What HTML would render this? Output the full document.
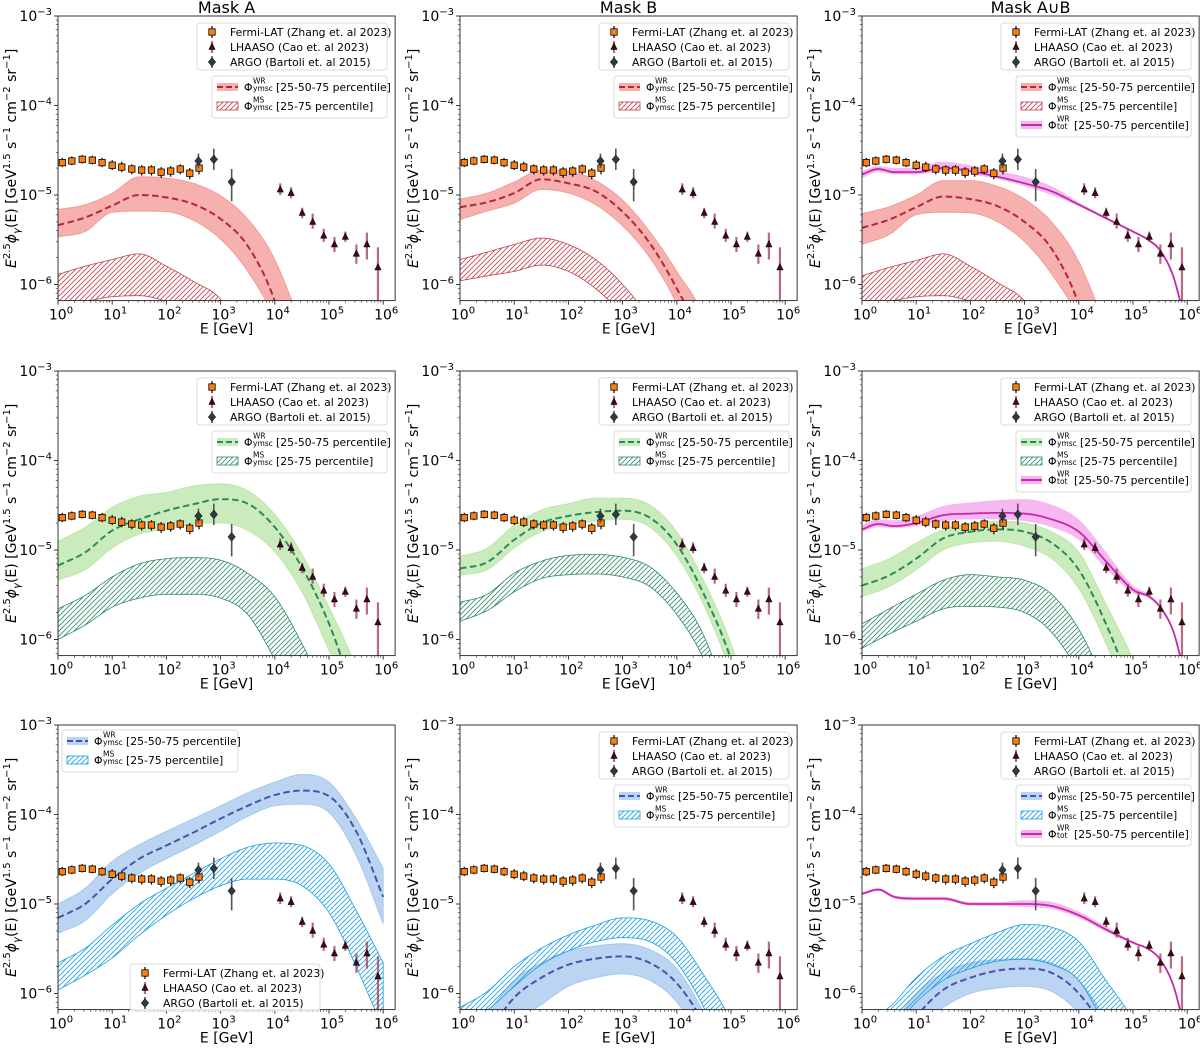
<!DOCTYPE html>
<html><head><meta charset="utf-8">
<style>
body{margin:0;background:#fff;overflow:hidden}
svg{display:block}
text{font-family:"DejaVu Sans","Liberation Sans",sans-serif;fill:#000}
</style></head>
<body>
<svg id="fig" width="1200" height="1052" viewBox="0 0 1200 1052" xmlns="http://www.w3.org/2000/svg">
<defs>
<pattern id="hatch-red" patternUnits="userSpaceOnUse" width="5" height="5"><path d="M-1,1 l2,-2 M0,5 l5,-5 M4,6 l2,-2" stroke="#c2404c" stroke-width="0.8"/></pattern>
<pattern id="hatch-green" patternUnits="userSpaceOnUse" width="5" height="5"><path d="M-1,1 l2,-2 M0,5 l5,-5 M4,6 l2,-2" stroke="#2f8c62" stroke-width="0.8"/></pattern>
<pattern id="hatch-blue" patternUnits="userSpaceOnUse" width="5" height="5"><path d="M-1,1 l2,-2 M0,5 l5,-5 M4,6 l2,-2" stroke="#1aa0e0" stroke-width="0.8"/></pattern>
</defs>
</svg>
<script>
// ---------- data ----------
const GRID=[0,0.5,1,1.5,2,2.5,3,3.5,4,4.5,5,5.5,6];
const TOT_GRID=[0,0.3,0.6,1,1.5,2,2.5,3,3.5,4,4.5,5,5.3,5.5,5.75,6];

const fermiE=[1.2,1.8,2.8,4.3,6.5,10,15,23,35,53,80,120,180,270,400];
const fermiF=[2.3e-5,2.4e-5,2.5e-5,2.45e-5,2.3e-5,2.15e-5,2.05e-5,1.95e-5,1.9e-5,1.9e-5,1.8e-5,1.85e-5,1.95e-5,1.75e-5,2.0e-5];
const fermiLo=[2.05e-5,2.15e-5,2.25e-5,2.2e-5,2.05e-5,1.9e-5,1.8e-5,1.7e-5,1.65e-5,1.65e-5,1.55e-5,1.6e-5,1.7e-5,1.5e-5,1.7e-5];
const fermiHi=[2.6e-5,2.7e-5,2.8e-5,2.75e-5,2.6e-5,2.45e-5,2.35e-5,2.2e-5,2.15e-5,2.15e-5,2.05e-5,2.1e-5,2.2e-5,2.0e-5,2.35e-5];
const lhaasoE=[1.26e4,2e4,3.2e4,5e4,8e4,1.26e5,2e5,3.2e5,5e5,8e5];
const lhaasoF=[1.15e-5,1.05e-5,6.3e-6,5e-6,3.5e-6,2.8e-6,3.4e-6,2.2e-6,2.8e-6,1.55e-6];
const lhaasoLo=[1.0e-5,9.2e-6,5.5e-6,4.2e-6,3.0e-6,2.3e-6,3.0e-6,1.7e-6,1.9e-6,6.5e-7];
const lhaasoHi=[1.35e-5,1.22e-5,7.2e-6,6.2e-6,4.2e-6,3.4e-6,3.9e-6,2.8e-6,3.8e-6,2.6e-6];
const argoE=[390,750,1600];
const argoF=[2.4e-5,2.5e-5,1.4e-5];
const argoLo=[2.0e-5,1.9e-5,8.5e-6];
const argoHi=[2.9e-5,3.3e-5,1.95e-5];

const a1WrLo=[3.4e-6,3.9e-6,6.4e-6,6.6e-6,6.5e-6,5.2e-6,3.2e-6,1.4e-6,4e-7,5e-8,1e-8,1e-8,1e-8];
const a1WrMed=[4.6e-6,5.6e-6,7.6e-6,1.0e-5,9.4e-6,7.9e-6,5.4e-6,2.7e-6,6.5e-7,5e-8,1e-8,1e-8,1e-8];
const a1WrHi=[6.9e-6,7.8e-6,1.05e-5,1.6e-5,1.55e-5,1.35e-5,9.8e-6,5.4e-6,1.9e-6,3e-7,2e-8,1e-8,1e-8];
const a1MsLo=[6e-7,6.5e-7,7.3e-7,7.5e-7,6.5e-7,5e-7,3e-7,1e-7,1e-8,1e-8,1e-8,1e-8,1e-8];
const a1MsHi=[1.3e-6,1.6e-6,1.9e-6,2.2e-6,1.6e-6,1.08e-6,6.8e-7,2e-7,3e-8,1e-8,1e-8,1e-8,1e-8];
const b1WrLo=[5.3e-6,6.6e-6,8.1e-6,1.15e-5,1.05e-5,7.8e-6,4.5e-6,2e-6,6e-7,1e-7,1e-8,1e-8,1e-8];
const b1WrMed=[7.3e-6,8.3e-6,1.05e-5,1.5e-5,1.35e-5,1.1e-5,6.5e-6,2.9e-6,9e-7,2e-7,1e-8,1e-8,1e-8];
const b1WrHi=[9e-6,1.05e-5,1.4e-5,1.9e-5,1.85e-5,1.45e-5,8.8e-6,3.9e-6,1.4e-6,4e-7,2e-8,1e-8,1e-8];
const b1MsLo=[1.1e-6,1.25e-6,1.4e-6,1.65e-6,1.4e-6,9e-7,4.5e-7,1.5e-7,3e-8,1e-8,1e-8,1e-8,1e-8];
const b1MsHi=[1.9e-6,2.3e-6,2.8e-6,3.3e-6,2.8e-6,1.9e-6,1.0e-6,4e-7,1e-7,1e-8,1e-8,1e-8,1e-8];
const c1WrLo=[2.8e-6,3.6e-6,6.0e-6,6.4e-6,6.3e-6,5.0e-6,3.0e-6,1.3e-6,4e-7,5e-8,1e-8,1e-8,1e-8];
const c1WrMed=[4.3e-6,5.3e-6,7.3e-6,9.6e-6,9.0e-6,7.5e-6,5.0e-6,2.5e-6,6e-7,5e-8,1e-8,1e-8,1e-8];
const c1WrHi=[6.2e-6,7.4e-6,1.0e-5,1.45e-5,1.45e-5,1.25e-5,9.0e-6,5.0e-6,1.8e-6,3e-7,2e-8,1e-8,1e-8];
const c1MsLo=[6e-7,6.5e-7,7.3e-7,7.5e-7,6.5e-7,5e-7,3e-7,1e-7,1e-8,1e-8,1e-8,1e-8,1e-8];
const c1MsHi=[1.25e-6,1.55e-6,1.85e-6,2.2e-6,1.6e-6,1.05e-6,6.5e-7,2e-7,3e-8,1e-8,1e-8,1e-8,1e-8];
const c1TotLo=[1.55e-5,1.8e-5,1.7e-5,1.7e-5,1.85e-5,1.7e-5,1.5e-5,1.25e-5,1.0e-5,7.5e-6,5.4e-6,3.8e-6,3.05e-6,2.35e-6,1.15e-6,3e-7];
const c1TotMed=[1.7e-5,1.95e-5,1.8e-5,1.8e-5,2.0e-5,1.85e-5,1.6e-5,1.35e-5,1.1e-5,7.8e-6,5.5e-6,3.9e-6,3.1e-6,2.4e-6,1.2e-6,3e-7];
const c1TotHi=[1.85e-5,2.1e-5,2.0e-5,2.05e-5,2.35e-5,2.15e-5,1.85e-5,1.6e-5,1.25e-5,8.3e-6,5.7e-6,4.0e-6,3.2e-6,2.5e-6,1.25e-6,3e-7];
const a2WrLo=[4.6e-6,6e-6,1.05e-5,1.5e-5,1.7e-5,1.95e-5,2.0e-5,1.65e-5,9.5e-6,3.4e-6,7.5e-7,1.5e-7,1e-8];
const a2WrMed=[6.7e-6,9.4e-6,1.65e-5,2.2e-5,2.75e-5,3.25e-5,3.7e-5,3.3e-5,1.8e-5,6.4e-6,1.5e-6,2e-7,2e-8];
const a2WrHi=[1.25e-5,1.8e-5,3.0e-5,4.0e-5,4.4e-5,5.2e-5,5.5e-5,4.6e-5,2.5e-5,9e-6,2.3e-6,5e-7,8e-8];
const a2MsLo=[1e-6,1.45e-6,2.3e-6,2.9e-6,3.2e-6,3.2e-6,2.9e-6,1.9e-6,6e-7,1.5e-7,2e-8,1e-8,1e-8];
const a2MsHi=[2.2e-6,3.1e-6,5e-6,7e-6,8e-6,8.2e-6,7.7e-6,5.5e-6,3e-6,9e-7,2e-7,2e-8,1e-8];
const b2WrLo=[5.2e-6,6e-6,1.05e-5,1.6e-5,1.9e-5,2.1e-5,2.2e-5,1.8e-5,8.5e-6,2.4e-6,4e-7,3e-8,1e-8];
const b2WrMed=[6.2e-6,7.3e-6,1.3e-5,2.0e-5,2.4e-5,2.65e-5,2.75e-5,2.3e-5,1.15e-5,3.2e-6,6e-7,5e-8,1e-8];
const b2WrHi=[8.5e-6,1.05e-5,1.9e-5,2.8e-5,3.3e-5,3.8e-5,3.8e-5,3.2e-5,1.6e-5,4.5e-6,9e-7,1e-7,1e-8];
const b2MsLo=[1.6e-6,2.1e-6,3.4e-6,4.8e-6,5.3e-6,5.4e-6,5.0e-6,3.9e-6,1.9e-6,6e-7,1e-7,1e-8,1e-8];
const b2MsHi=[2.6e-6,3.2e-6,5.5e-6,7.5e-6,8.7e-6,8.9e-6,8.3e-6,6.5e-6,3.3e-6,1.1e-6,1.5e-7,1e-8,1e-8];
const c2WrLo=[3e-6,3.9e-6,6e-6,1.0e-5,1.2e-5,1.25e-5,1.1e-5,8e-6,3.7e-6,9e-7,1.5e-7,1e-8,1e-8];
const c2WrMed=[4e-6,5.2e-6,8e-6,1.35e-5,1.6e-5,1.7e-5,1.6e-5,1.2e-5,6e-6,1.5e-6,2.5e-7,3e-8,1e-8];
const c2WrHi=[6.2e-6,8e-6,1.2e-5,1.7e-5,2.0e-5,2.1e-5,2.0e-5,1.6e-5,9.5e-6,2.5e-6,6e-7,1e-7,1e-8];
const c2MsLo=[8e-7,1.15e-6,1.6e-6,2.2e-6,2.35e-6,2.3e-6,2.0e-6,1.2e-6,4e-7,5e-8,1e-8,1e-8,1e-8];
const c2MsHi=[1.5e-6,2.2e-6,3.2e-6,4.6e-6,5.3e-6,5.0e-6,4.6e-6,3.2e-6,1.3e-6,3e-7,5e-8,1e-8,1e-8];
const c2TotLo=[1.6e-5,1.8e-5,1.75e-5,1.85e-5,2.1e-5,2.2e-5,2.2e-5,2.1e-5,1.8e-5,1.3e-5,6.2e-6,3.3e-6,2.9e-6,2.2e-6,1.15e-6,3e-7];
const c2TotMed=[1.7e-5,1.95e-5,1.85e-5,2.0e-5,2.45e-5,2.55e-5,2.6e-5,2.55e-5,2.2e-5,1.6e-5,7.5e-6,3.6e-6,3.0e-6,2.3e-6,1.2e-6,3e-7];
const c2TotHi=[1.9e-5,2.2e-5,2.15e-5,2.4e-5,3.1e-5,3.4e-5,3.6e-5,3.7e-5,3.2e-5,2.2e-5,9.5e-6,4.0e-6,3.2e-6,2.4e-6,1.25e-6,3e-7];
const a3WrLo=[4.7e-6,6.5e-6,1.3e-5,2.2e-5,3.2e-5,4.5e-5,6.5e-5,9.5e-5,1.25e-4,1.3e-4,1.05e-4,3.5e-5,6e-6];
const a3WrMed=[7e-6,1e-5,1.9e-5,3.2e-5,4.5e-5,6.3e-5,9e-5,1.25e-4,1.65e-4,1.85e-4,1.6e-4,6.5e-5,1.2e-5];
const a3WrHi=[1.0e-5,1.5e-5,3e-5,4.6e-5,6.5e-5,9e-5,1.25e-4,1.75e-4,2.3e-4,2.8e-4,2.3e-4,9e-5,2.5e-5];
const a3MsLo=[1.1e-6,1.6e-6,2.5e-6,4.5e-6,7.5e-6,1.15e-5,1.6e-5,1.9e-5,1.9e-5,1.6e-5,8e-6,2e-6,4e-7];
const a3MsHi=[2.2e-6,3.2e-6,5.8e-6,1.0e-5,1.5e-5,2.2e-5,3.2e-5,4.3e-5,4.8e-5,4.5e-5,2.8e-5,8.5e-6,2.2e-6];
const b3WrLo=[5e-8,1.5e-7,4.5e-7,7.5e-7,1.2e-6,1.5e-6,1.65e-6,1.4e-6,8e-7,2.5e-7,4e-8,1e-8,1e-8];
const b3WrMed=[1.5e-7,3.5e-7,9e-7,1.5e-6,2.1e-6,2.45e-6,2.6e-6,2.2e-6,1.3e-6,4.5e-7,8e-8,1e-8,1e-8];
const b3WrHi=[2.5e-7,6e-7,1.4e-6,2.2e-6,3.0e-6,3.4e-6,3.6e-6,3.1e-6,1.9e-6,6e-7,1.2e-7,1e-8,1e-8];
const b3MsLo=[4.5e-7,6.5e-7,1.2e-6,2.1e-6,3e-6,3.8e-6,4.2e-6,3.8e-6,2.2e-6,7e-7,1.5e-7,2e-8,1e-8];
const b3MsHi=[7e-7,1.05e-6,2e-6,3.2e-6,4.5e-6,5.8e-6,7e-6,6.5e-6,4.3e-6,1.6e-6,5e-7,1e-7,1e-8];
const c3WrLo=[4e-8,1e-7,4e-7,7e-7,1.0e-6,1.15e-6,1.2e-6,1.05e-6,6e-7,2e-7,3e-8,1e-8,1e-8];
const c3WrMed=[8e-8,2e-7,5.5e-7,1.1e-6,1.5e-6,1.8e-6,1.9e-6,1.7e-6,1.0e-6,3.5e-7,5e-8,1e-8,1e-8];
const c3WrHi=[1.5e-7,4e-7,1.0e-6,1.7e-6,2.2e-6,2.4e-6,2.45e-6,2.2e-6,1.4e-6,5e-7,1e-7,1e-8,1e-8];
const c3MsLo=[2e-7,3.5e-7,8e-7,1.4e-6,1.9e-6,2.3e-6,2.4e-6,2.1e-6,1.4e-6,4e-7,8e-8,1e-8,1e-8];
const c3MsHi=[5e-7,7e-7,1.5e-6,2.6e-6,3.6e-6,4.8e-6,5.9e-6,5.5e-6,3.8e-6,1.4e-6,5e-7,1e-7,1e-8];
const c3TotLo=[1.25e-5,1.4e-5,1.15e-5,1.1e-5,1.1e-5,9.6e-6,9.5e-6,9.3e-6,8.8e-6,7e-6,4.9e-6,3.6e-6,3.05e-6,2.35e-6,1.18e-6,3e-7];
const c3TotMed=[1.3e-5,1.45e-5,1.2e-5,1.15e-5,1.15e-5,1.0e-5,1.0e-5,1.0e-5,9.5e-6,7.5e-6,5.2e-6,3.7e-6,3.1e-6,2.4e-6,1.2e-6,3e-7];
const c3TotHi=[1.35e-5,1.5e-5,1.25e-5,1.2e-5,1.2e-5,1.05e-5,1.05e-5,1.1e-5,1.05e-5,8.2e-6,5.6e-6,3.8e-6,3.15e-6,2.45e-6,1.22e-6,3e-7];

const xTickExps=[0,1,2,3,4,5,6];
const yTickExps=[-3,-4,-5,-6];
const titles=['Mask A','Mask B','Mask A\u222aB'];

// ---------- drawing ----------
const NS='http://www.w3.org/2000/svg';
const svg=document.getElementById('fig');
function el(tag,attrs,parent){const e=document.createElementNS(NS,tag);for(const k in attrs)e.setAttribute(k,attrs[k]);(parent||svg).appendChild(e);return e;}

const COL_L=[58,460,862], ROW_T=[16,371,725];
const DX=54.2, DY=89.5, XMAX=6.22, YMIN=-6.18;
const W=DX*XMAX, H=DY*(-3-YMIN);

const COLORS={
 red:{fill:'#ee6f6b',op:0.55,line:'#b5263a',hatch:'url(#hatch-red)',edge:'#c2404c'},
 green:{fill:'#9fdc85',op:0.55,line:'#2a8a5a',hatch:'url(#hatch-green)',edge:'#2f8c62'},
 blue:{fill:'#78aae6',op:0.5,line:'#4455aa',hatch:'url(#hatch-blue)',edge:'#1aa0e0'}
};

function interp(xs,ys){
 const n=xs.length,d=[],m=[];
 for(let i=0;i<n-1;i++)d[i]=(ys[i+1]-ys[i])/(xs[i+1]-xs[i]);
 m[0]=d[0];m[n-1]=d[n-2];
 for(let i=1;i<n-1;i++)m[i]=d[i-1]*d[i]<=0?0:(d[i-1]+d[i])/2;
 for(let i=0;i<n-1;i++){
  if(d[i]===0){m[i]=0;m[i+1]=0;continue;}
  const a=m[i]/d[i],b=m[i+1]/d[i],s=a*a+b*b;
  if(s>9){const t=3/Math.sqrt(s);m[i]=t*a*d[i];m[i+1]=t*b*d[i];}
 }
 return x=>{
  let i=0;while(i<n-2&&x>xs[i+1])i++;
  const h=xs[i+1]-xs[i],t=(x-xs[i])/h,t2=t*t,t3=t2*t;
  return (2*t3-3*t2+1)*ys[i]+(t3-2*t2+t)*h*m[i]+(-2*t3+3*t2)*ys[i+1]+(t3-t2)*h*m[i+1];
 };
}
function curvePts(L,T,grid,vals){
 const f=interp(grid,vals.map(v=>Math.log10(v)));
 const pts=[];
 for(let lx=0;lx<=6.0001;lx+=0.025){
  let v=f(Math.min(lx,6));v=Math.max(v,-9);
  pts.push([L+lx*DX,T+(-3-v)*DY]);
 }
 return pts;
}
function ptsStr(p){return p.map(q=>q[0].toFixed(1)+','+q[1].toFixed(1)).join(' L');}
function xp(L,e){return L+Math.log10(e)*DX;}
function yp(T,v){return T+(-3-Math.log10(v))*DY;}

const panels=[
 {c:0,r:0,col:'red',wr:[a1WrLo,a1WrMed,a1WrHi],ms:[a1MsLo,a1MsHi],tot:null,leg:'tr'},
 {c:1,r:0,col:'red',wr:[b1WrLo,b1WrMed,b1WrHi],ms:[b1MsLo,b1MsHi],tot:null,leg:'tr'},
 {c:2,r:0,col:'red',wr:[c1WrLo,c1WrMed,c1WrHi],ms:[c1MsLo,c1MsHi],tot:[c1TotLo,c1TotMed,c1TotHi],leg:'tr'},
 {c:0,r:1,col:'green',wr:[a2WrLo,a2WrMed,a2WrHi],ms:[a2MsLo,a2MsHi],tot:null,leg:'tr'},
 {c:1,r:1,col:'green',wr:[b2WrLo,b2WrMed,b2WrHi],ms:[b2MsLo,b2MsHi],tot:null,leg:'tr'},
 {c:2,r:1,col:'green',wr:[c2WrLo,c2WrMed,c2WrHi],ms:[c2MsLo,c2MsHi],tot:[c2TotLo,c2TotMed,c2TotHi],leg:'tr'},
 {c:0,r:2,col:'blue',wr:[a3WrLo,a3WrMed,a3WrHi],ms:[a3MsLo,a3MsHi],tot:null,leg:'split'},
 {c:1,r:2,col:'blue',wr:[b3WrLo,b3WrMed,b3WrHi],ms:[b3MsLo,b3MsHi],tot:null,leg:'tr'},
 {c:2,r:2,col:'blue',wr:[c3WrLo,c3WrMed,c3WrHi],ms:[c3MsLo,c3MsHi],tot:[c3TotLo,c3TotMed,c3TotHi],leg:'tr'}
];

function dataMarker(g,kind,x,y){
 if(kind==='fermi'){const m=el('rect',{x:x-3.2,y:y-3.2,width:6.4,height:6.4,fill:'#ff7f0e',stroke:'#000','stroke-width':0.8},g);
  
  }
 else if(kind==='lhaaso'){const m=el('path',{d:`M${x},${y-4} L${x+3.2},${y+2.5} L${x-3.2},${y+2.5} Z`,fill:'#3d0a16',stroke:'#000','stroke-width':0.5},g);
  
  }
 else {const m=el('path',{d:`M${x},${y-4.5} L${x+3.8},${y} L${x},${y+4.5} L${x-3.8},${y} Z`,fill:'#2c3a42',stroke:'#111','stroke-width':0.5},g);
  
  }
}
function errBar(g,kind,x,y1,y2){
 const st={fermi:['#000',1.2,1],lhaaso:['#a3385a',2.2,0.75],argo:['#555',1.6,1]}[kind];
 const e=el('line',{x1:x,x2:x,y1:y1,y2:y2,stroke:st[0],'stroke-width':st[1],opacity:st[2]},g);
 
 
}

function script(parent,x,y,sup,sub){
 const t=el('text',{x:x,y:y-3.5,'font-size':7.5},parent);t.textContent=sup;
 
 
 const s=el('text',{x:x,y:y+4,'font-size':7.5},parent);s.textContent=sub;
 
 
}

function dataLegend(L,T,bx,by,bw){
 const g=el('g',{});
 
 
 const box=el('rect',{x:bx,y:by,width:bw,height:47,rx:3,fill:'#fff','fill-opacity':0.85,stroke:'#d0d0d0','stroke-width':0.8},g);
 
 
 const items=[['fermi','Fermi-LAT (Zhang et. al 2023)'],['lhaaso','LHAASO (Cao et. al 2023)'],['argo','ARGO (Bartoli et. al 2015)']];
 items.forEach((it,i)=>{
  const cy=by+9+i*15;
  errBar(g,it[0],bx+15,cy-6,cy+6);
  dataMarker(g,it[0],bx+15,cy);
  const t=el('text',{x:bx+33,y:cy+4,'font-size':10.8},g);t.textContent=it[1];
  
  
 });
}
function modelLegend(col,bx,by,bw,withTot){
 const C=COLORS[col];
 const g=el('g',{});
 
 
 const h=withTot?61:42;
 const box=el('rect',{x:bx,y:by,width:bw,height:h,rx:3,fill:'#fff','fill-opacity':0.85,stroke:'#d0d0d0','stroke-width':0.8},g);
 
 
 let cy=by+11;
 const h1=el('rect',{x:bx+5,y:cy-4,width:21,height:8,fill:C.fill,'fill-opacity':C.op},g);
 
 
 const l1=el('line',{x1:bx+5,x2:bx+26,y1:cy,y2:cy,stroke:C.line,'stroke-width':2,'stroke-dasharray':'6,3'},g);
 
 
 let t=el('text',{x:bx+32,y:cy+4,'font-size':10.8},g);t.textContent='\u03a6';
 
 
 script(g,bx+41,cy,'WR','ymsc');
 t=el('text',{x:bx+64,y:cy+4,'font-size':10.8},g);t.textContent='[25-50-75 percentile]';
 
 
 cy+=19;
 const h2=el('rect',{x:bx+5,y:cy-4,width:21,height:8,fill:C.hatch,stroke:C.edge,'stroke-width':0.8},g);
 
 
 t=el('text',{x:bx+32,y:cy+4,'font-size':10.8},g);t.textContent='\u03a6';
 
 
 script(g,bx+41,cy,'MS','ymsc');
 t=el('text',{x:bx+64,y:cy+4,'font-size':10.8},g);t.textContent='[25-75 percentile]';
 
 
 if(withTot){
  cy+=19;
  const h3=el('rect',{x:bx+5,y:cy-4,width:21,height:8,fill:'#f07ee8','fill-opacity':0.6},g);
  
  
  const l3=el('line',{x1:bx+5,x2:bx+26,y1:cy,y2:cy,stroke:'#c42aa8','stroke-width':2},g);
  
  
  t=el('text',{x:bx+32,y:cy+4,'font-size':10.8},g);t.textContent='\u03a6';
  
  
  script(g,bx+41,cy,'WR','tot');
  t=el('text',{x:bx+58,y:cy+4,'font-size':10.8},g);t.textContent='[25-50-75 percentile]';
  
  
 }
}

panels.forEach((P,idx)=>{
 const L=COL_L[P.c],T=ROW_T[P.r],R=L+W,B=T+H,C=COLORS[P.col];
 const cp=el('clipPath',{id:'clip'+idx});
 el('rect',{x:L,y:T,width:W,height:H},cp);
 const g=el('g',{'clip-path':`url(#clip${idx})`});
 
 
 const hi=curvePts(L,T,GRID,P.wr[2]),lo=curvePts(L,T,GRID,P.wr[0]);
 const band=el('path',{d:'M'+ptsStr(hi)+' L'+ptsStr(lo.slice().reverse())+' Z',fill:C.fill,'fill-opacity':C.op,stroke:C.fill,'stroke-opacity':0.6,'stroke-width':0.8},g);
 
 
 const mh=curvePts(L,T,GRID,P.ms[1]),ml=curvePts(L,T,GRID,P.ms[0]);
 const hatch=el('path',{d:'M'+ptsStr(mh)+' L'+ptsStr(ml.slice().reverse())+' Z',fill:C.hatch,stroke:C.edge,'stroke-width':0.8},g);
 
 
 if(P.tot){
  const th=curvePts(L,T,TOT_GRID,P.tot[2]),tl=curvePts(L,T,TOT_GRID,P.tot[0]);
  const tb=el('path',{d:'M'+ptsStr(th)+' L'+ptsStr(tl.slice().reverse())+' Z',fill:'#f07ee8','fill-opacity':0.55},g);
  
  
 }
 const med=el('path',{d:'M'+ptsStr(curvePts(L,T,GRID,P.wr[1])),fill:'none',stroke:C.line,'stroke-width':2,'stroke-dasharray':'6.5,3.5'},g);
 
 
 if(P.tot){
  const tl=el('path',{d:'M'+ptsStr(curvePts(L,T,TOT_GRID,P.tot[1])),fill:'none',stroke:'#c42aa8','stroke-width':1.8},g);
  
  
 }
 fermiE.forEach((e,i)=>{errBar(g,'fermi',xp(L,e),yp(T,fermiLo[i]),yp(T,fermiHi[i]));dataMarker(g,'fermi',xp(L,e),yp(T,fermiF[i]));});
 lhaasoE.forEach((e,i)=>{errBar(g,'lhaaso',xp(L,e),yp(T,lhaasoLo[i]),yp(T,lhaasoHi[i]));dataMarker(g,'lhaaso',xp(L,e),yp(T,lhaasoF[i]));});
 argoE.forEach((e,i)=>{errBar(g,'argo',xp(L,e),yp(T,argoLo[i]),yp(T,argoHi[i]));dataMarker(g,'argo',xp(L,e),yp(T,argoF[i]));});
 const fr=el('rect',{x:L,y:T,width:W,height:H,fill:'none',stroke:'#222','stroke-width':0.9});
 
 
 xTickExps.forEach(k=>{
  const x=L+k*DX;
  const tk=el('line',{x1:x,x2:x,y1:B,y2:B+4,stroke:'#222','stroke-width':0.9});
  
  
  const t=el('text',{x:x+3,y:B+19,'font-size':14,'text-anchor':'middle'});
  
  
  const a=el('tspan',{},t);a.textContent='10';
  const b=el('tspan',{dy:-6,'font-size':10},t);b.textContent=String(k);
  for(let m=2;m<=9&&k<6;m++){const mx=x+Math.log10(m)*DX;
   const mt=el('line',{x1:mx,x2:mx,y1:B,y2:B+2.2,stroke:'#222','stroke-width':0.6});
   
   }
 });
 yTickExps.forEach(k=>{
  const y=T+(-3-k)*DY;
  const tk=el('line',{x1:L-4,x2:L,y1:y,y2:y,stroke:'#222','stroke-width':0.9});
  
  
  const t=el('text',{x:L-6,y:y+5,'font-size':14,'text-anchor':'end'});
  
  
  const a=el('tspan',{},t);a.textContent='10';
  const b=el('tspan',{dy:-6,'font-size':10},t);b.textContent='\u2212'+(-k);
  for(let m=2;m<=9;m++){const my=y-Math.log10(m)*DY; if(my<T)continue;
   const mt=el('line',{x1:L-2.2,x2:L,y1:my,y2:my,stroke:'#222','stroke-width':0.6});
   
   }
  if(k===-6){for(let m=5;m<=9;m++){const my=y+(1-Math.log10(m))*DY; if(my>B)continue;
   const mt=el('line',{x1:L-2.2,x2:L,y1:my,y2:my,stroke:'#222','stroke-width':0.6});
   
   }}
 });
 const xl=el('text',{x:L+W/2,y:B+33,'font-size':14,'text-anchor':'middle'});xl.textContent='E [GeV]';
 
 
 const yx=L-42,yy=T+H/2;
 const yl=el('text',{x:yx,y:yy,'font-size':14,'text-anchor':'middle',transform:`rotate(-90 ${yx} ${yy})`});
 
 
 [['E',{'font-style':'italic'}],['2.5',{dy:-6,'font-size':10}],['\u03d5',{dy:6,'font-style':'italic'}],['\u03b3',{dy:4,'font-size':10,'font-style':'italic'}],['(E) [GeV',{dy:-4}],['1.5',{dy:-6,'font-size':10}],[' s',{dy:6}],['\u22121',{dy:-6,'font-size':10}],[' cm',{dy:6}],['\u22122',{dy:-6,'font-size':10}],[' sr',{dy:6}],['\u22121',{dy:-6,'font-size':10}],[']',{dy:6}]].forEach(p=>{const s=el('tspan',p[1],yl);s.textContent=p[0];});
 if(P.r===0){const tt=el('text',{x:L+W/2,y:T-3,'font-size':16,'text-anchor':'middle'});tt.textContent=titles[P.c];
  
  }
 if(P.leg==='tr'){
  dataLegend(L,T,L+139,T+7,R-8-(L+139));
  modelLegend(P.col,L+154,T+60,R-8-(L+154),!!P.tot);
 } else {
  modelLegend(P.col,L+4,T+5,176,false);
  dataLegend(L,T,L+72,T+239,190);
 }
});
</script>
</body></html>
